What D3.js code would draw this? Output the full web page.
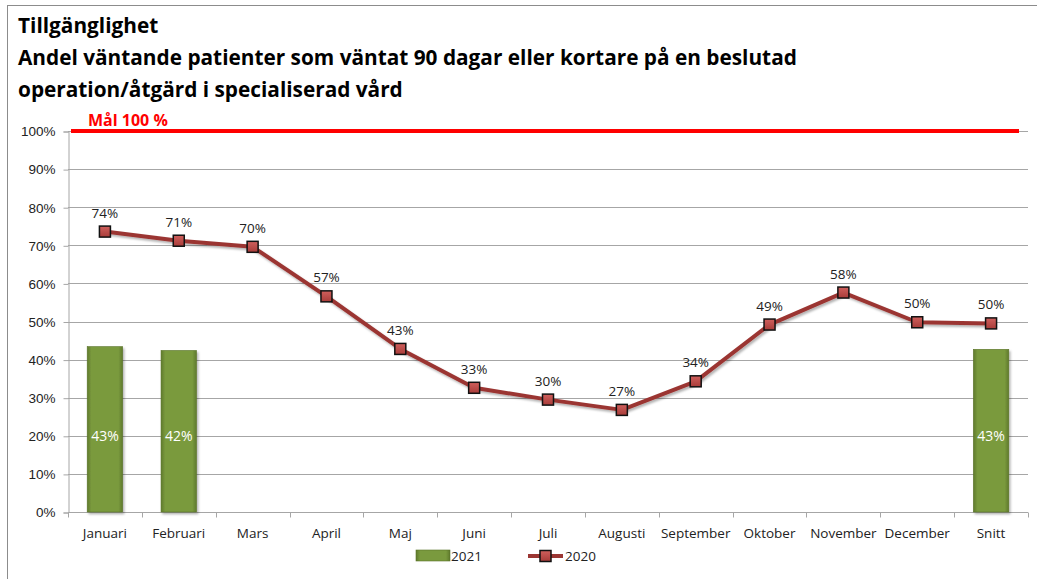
<!DOCTYPE html>
<html lang="sv">
<head>
<meta charset="utf-8"/>
<title>Tillgänglighet</title>
<script src="https://cdn.jsdelivr.net/npm/d3@7"></script>
<style>
  body { margin: 0; background: #fff; }
  svg { display: block; font-family: "Open Sans", "Liberation Sans", sans-serif; }
  .tick text { fill: #222; font-size: 13.5px; }
</style>
</head>
<body>
<svg id="chart"></svg>
<script>
// chart data
const months = ["Januari", "Februari", "Mars", "April", "Maj", "Juni", "Juli", "Augusti",
  "September", "Oktober", "November", "December", "Snitt"]
const values2020 = [73.6, 71.2, 69.6, 56.6, 42.8, 32.6, 29.5, 26.8, 34.3, 49.2, 57.6, 49.8, 49.5]
const bars2021 = [
  {month: "Januari", value: 43.4},
  {month: "Februari", value: 42.4},
  {month: "Snitt", value: 42.7}
]
const yTicks = [0, 10, 20, 30, 40, 50, 60, 70, 80, 90, 100]
const goal = 100

const width = 1037
const height = 579
const margin = {top: 131, right: 8, bottom: 67, left: 68}

const svg = d3.select('#chart')
  .attr('width', width)
  .attr('height', height)

// frame round the chart
svg.append('rect')
  .attr('x', 7.5).attr('y', 5.5)
  .attr('width', width).attr('height', height)
  .attr('fill', 'none').attr('stroke', '#8c8c8c')

const defs = svg.append('defs')
const barGrad = defs.append('linearGradient').attr('id', 'bargrad')
  .attr('x1', 0).attr('x2', 1).attr('y1', 0).attr('y2', 0)
barGrad.append('stop').attr('offset', '0%').attr('stop-color', '#5f7a2c')
barGrad.append('stop').attr('offset', '12%').attr('stop-color', '#7a9a3e')
barGrad.append('stop').attr('offset', '88%').attr('stop-color', '#7a9a3e')
barGrad.append('stop').attr('offset', '100%').attr('stop-color', '#5f7a2c')
const markGrad = defs.append('linearGradient').attr('id', 'markgrad')
  .attr('x1', 0).attr('x2', 0).attr('y1', 0).attr('y2', 1)
markGrad.append('stop').attr('offset', '0%').attr('stop-color', '#d0605d')
markGrad.append('stop').attr('offset', '100%').attr('stop-color', '#a83c39')
const shadow = defs.append('filter').attr('id', 'shadow')
  .attr('x', '-20%').attr('y', '-20%').attr('width', '150%').attr('height', '150%')
shadow.append('feDropShadow').attr('dx', 1.5).attr('dy', 2).attr('stdDeviation', 1.2)
  .attr('flood-color', '#000').attr('flood-opacity', 0.3)

// titles
const titleLines = [
  "Tillgänglighet",
  "Andel väntande patienter som väntat 90 dagar eller kortare på en beslutad",
  "operation/åtgärd i specialiserad vård"
]
const titles = svg.append('g')
  .selectAll('text')
  .data(titleLines)
  .enter()
  .append('text')
  .attr('x', 18)
  .attr('y', (d, i) => [33, 65, 97][i])
  .attr('font-size', 20)
  .attr('font-weight', 'bold')
  .attr('fill', '#000')
  .text(d => d)
// fit the long line to the width it has in the picture
const longLine = titles.filter((d, i) => i === 1).node()
const fitSize = 20 * 779 / longLine.getComputedTextLength()
titles.attr('font-size', fitSize)

const x = d3.scaleBand()
  .domain(months)
  .range([margin.left, width - margin.right - 1])

const y = d3.scaleLinear()
  .domain([0, 100])
  .range([height - margin.bottom, margin.top])

// grid
svg.append('g')
  .selectAll('line')
  .data(yTicks.slice(1))
  .enter()
  .append('line')
  .attr('x1', margin.left).attr('x2', width - margin.right - 1)
  .attr('y1', d => Math.round(y(d)) + 0.5).attr('y2', d => Math.round(y(d)) + 0.5)
  .attr('stroke', '#a6a6a6')

// y axis
const yAxis = svg.append('g')
  .attr('transform', `translate(${margin.left + 0.5},0.5)`)
  .call(d3.axisLeft(y).tickValues(yTicks).tickFormat(d => d + '%').tickSize(5).tickPadding(8))
yAxis.select('.domain').attr('stroke', '#a6a6a6')
yAxis.selectAll('.tick line').attr('stroke', '#a6a6a6')

// x axis with ticks between categories
const xAxisG = svg.append('g')
  .attr('transform', `translate(0,${Math.round(y(0)) + 0.5})`)
xAxisG.append('line')
  .attr('x1', margin.left).attr('x2', width - margin.right - 1)
  .attr('stroke', '#a6a6a6')
xAxisG.selectAll('.sep')
  .data(months.map((m, i) => i).concat([months.length]))
  .enter()
  .append('line')
  .attr('x1', i => Math.round(margin.left + i * x.step()) + 0.5)
  .attr('x2', i => Math.round(margin.left + i * x.step()) + 0.5)
  .attr('y1', 0).attr('y2', 5)
  .attr('stroke', '#a6a6a6')
xAxisG.selectAll('.lbl')
  .data(months)
  .enter()
  .append('text')
  .attr('x', d => x(d) + x.bandwidth() / 2)
  .attr('y', 25)
  .attr('text-anchor', 'middle')
  .attr('font-size', 13.5)
  .attr('fill', '#222')
  .text(d => d)

// bars 2021
const barW = x.bandwidth() * 0.48
const bars = svg.append('g')
bars.selectAll('rect')
  .data(bars2021)
  .enter()
  .append('rect')
  .attr('x', d => x(d.month) + (x.bandwidth() - barW) / 2)
  .attr('y', d => y(d.value))
  .attr('width', barW)
  .attr('height', d => y(0) - y(d.value))
  .attr('fill', 'url(#bargrad)')
  .attr('stroke', '#5a7428')
  .attr('stroke-width', 0.6)
  .attr('filter', 'url(#shadow)')
bars.selectAll('text')
  .data(bars2021)
  .enter()
  .append('text')
  .attr('x', d => x(d.month) + x.bandwidth() / 2)
  .attr('y', y(20) + 5)
  .attr('text-anchor', 'middle')
  .attr('font-size', 14)
  .attr('fill', '#fff')
  .text(d => Math.round(d.value) + '%')

// goal line
svg.append('line')
  .attr('x1', margin.left + 3).attr('x2', width - 18)
  .attr('y1', y(goal)).attr('y2', y(goal))
  .attr('stroke', '#ff0000')
  .attr('stroke-width', 4)
svg.append('text')
  .attr('x', 88).attr('y', y(goal) - 5)
  .attr('font-size', 16)
  .attr('font-weight', 'bold')
  .attr('fill', '#ff0000')
  .text('Mål 100 %')

// line 2020
const line = d3.line()
  .x((d, i) => x(months[i]) + x.bandwidth() / 2)
  .y(d => y(d))
svg.append('path')
  .datum(values2020)
  .attr('d', line)
  .attr('fill', 'none')
  .attr('stroke', '#9b3633')
  .attr('stroke-width', 4)
  .attr('stroke-linejoin', 'round')
  .attr('filter', 'url(#shadow)')

const ms = 11
const points = svg.append('g')
points.selectAll('rect')
  .data(values2020)
  .enter()
  .append('rect')
  .attr('x', (d, i) => x(months[i]) + x.bandwidth() / 2 - ms / 2)
  .attr('y', d => y(d) - ms / 2)
  .attr('width', ms).attr('height', ms)
  .attr('fill', 'url(#markgrad)')
  .attr('stroke', '#111')
  .attr('stroke-width', 1.5)
points.selectAll('text')
  .data(values2020)
  .enter()
  .append('text')
  .attr('x', (d, i) => x(months[i]) + x.bandwidth() / 2)
  .attr('y', d => y(d) - 14)
  .attr('text-anchor', 'middle')
  .attr('font-size', 13.5)
  .attr('fill', '#222')
  .text(d => Math.round(d) + '%')

// legend
const legend = svg.append('g').attr('transform', 'translate(0,556)')
legend.append('rect')
  .attr('x', 416).attr('y', -6).attr('width', 34).attr('height', 11)
  .attr('fill', 'url(#bargrad)').attr('stroke', '#5a7428').attr('stroke-width', 0.6)
legend.append('text').attr('x', 451).attr('y', 5)
  .attr('font-size', 13.5).attr('fill', '#222').text('2021')
legend.append('line')
  .attr('x1', 528).attr('x2', 563).attr('y1', 0).attr('y2', 0)
  .attr('stroke', '#9b3633').attr('stroke-width', 4)
legend.append('rect')
  .attr('x', 545.5 - ms / 2).attr('y', -ms / 2).attr('width', ms).attr('height', ms)
  .attr('fill', 'url(#markgrad)').attr('stroke', '#111').attr('stroke-width', 1.5)
legend.append('text').attr('x', 565).attr('y', 5)
  .attr('font-size', 13.5).attr('fill', '#222').text('2020')
</script>
</body>
</html>
